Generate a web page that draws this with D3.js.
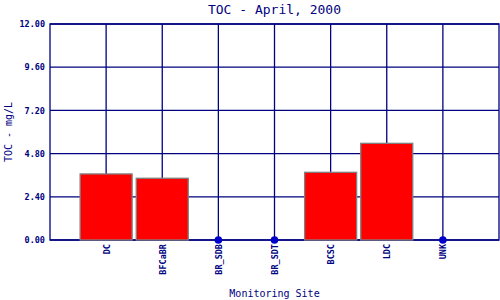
<!DOCTYPE html>
<html>
<head>
<meta charset="utf-8">
<script src="https://cdn.jsdelivr.net/npm/d3@7"></script>
<style>
  body { margin: 0; background: #fff; }
  text { font-family: "DejaVu Sans Mono", "Liberation Mono", monospace; fill: #000080; }
</style>
</head>
<body>
<div class="content"></div>
<script>
// site names along the x axis
const sites = ["DC", "BFCaBR", "BR_SDB", "BR_SDT", "BCSC", "LDC", "UNK"];
// TOC values in mg/L (null = no sample, drawn as a dot at zero)
const tocValues = [3.67, 3.43, null, null, 3.76, 5.37, null];
const yTicks = [0, 2.4, 4.8, 7.2, 9.6, 12];

const margin = { top: 24, right: 1, bottom: 60, left: 50 };
const width = 500, height = 300;

const svg = d3.select('.content')
    .append('svg')
    .attr('width', width)
    .attr('height', height);

const data = sites.map((s, i) => ({ site: s, value: tocValues[i] }));

// 8 equal steps across the plot, categories sit on steps 1..7
const xScale = d3.scalePoint()
    .domain(sites)
    .range([margin.left, width - margin.right])
    .padding(1);

const yScale = d3.scaleLinear()
    .domain([0, 12])
    .range([height - margin.bottom, margin.top]);

const navy = "#000080";

// grid
svg.append("g")
    .selectAll("line")
    .data(yTicks)
    .enter().append("line")
    .attr("x1", margin.left)
    .attr("x2", width - margin.right)
    .attr("y1", d => yScale(d))
    .attr("y2", d => yScale(d))
    .attr("stroke", navy)
    .attr("stroke-width", 1.3);

svg.append("g")
    .selectAll("line")
    .data(sites)
    .enter().append("line")
    .attr("x1", d => xScale(d))
    .attr("x2", d => xScale(d))
    .attr("y1", margin.top)
    .attr("y2", height - margin.bottom)
    .attr("stroke", navy)
    .attr("stroke-width", 1.3);

svg.append("rect")
    .attr("x", margin.left)
    .attr("y", margin.top)
    .attr("width", width - margin.right - margin.left)
    .attr("height", height - margin.bottom - margin.top)
    .attr("fill", "none")
    .attr("stroke", navy)
    .attr("stroke-width", 1.3);

// y axis labels
const yAxis = d3.axisLeft(yScale)
    .tickValues(yTicks)
    .tickFormat(d3.format(".2f"))
    .tickSize(0)
    .tickPadding(5);

svg.append("g")
    .attr("transform", `translate(${margin.left},0)`)
    .call(yAxis)
    .call(g => g.select('.domain').remove())
    .call(g => g.selectAll('text')
        .attr("font-family", "DejaVu Sans Mono")
        .attr("font-size", 8.5)
        .attr("font-weight", "bold")
        .attr("fill", navy));

// x axis labels, rotated
const xAxis = d3.axisBottom(xScale).tickSize(0).tickPadding(0);
svg.append("g")
    .attr("transform", `translate(0, ${height - margin.bottom})`)
    .call(xAxis)
    .call(g => g.select('.domain').remove())
    .call(g => g.selectAll('text')
        .attr("font-family", "DejaVu Sans Mono")
        .attr("font-size", 8.5)
        .attr("font-weight", "bold")
        .attr("fill", navy)
        .attr("transform", "rotate(-90)")
        .attr("text-anchor", "end")
        .attr("x", -4)
        .attr("y", 0)
        .attr("dy", "0.35em"));

// bars
const barW = 52;
svg.selectAll(".bar")
    .data(data.filter(d => d.value !== null))
    .enter().append("rect")
    .attr("class", "bar")
    .attr("x", d => xScale(d.site) - barW / 2)
    .attr("y", d => yScale(d.value))
    .attr("width", barW)
    .attr("height", d => yScale(0) - yScale(d.value))
    .attr("fill", "#ff0000")
    .attr("stroke", "#808080")
    .attr("stroke-width", 1.3);

// missing samples
svg.selectAll(".dot")
    .data(data.filter(d => d.value === null))
    .enter().append("circle")
    .attr("class", "dot")
    .attr("cx", d => xScale(d.site))
    .attr("cy", yScale(0))
    .attr("r", 3.8)
    .attr("fill", "#0000cc");

// titles
const cx = (margin.left + width - margin.right) / 2;
svg.append("text")
    .attr("x", cx)
    .attr("y", 14)
    .attr("text-anchor", "middle")
    .attr("font-size", 13)
    .text("TOC - April, 2000");

svg.append("text")
    .attr("x", cx)
    .attr("y", 297)
    .attr("text-anchor", "middle")
    .attr("font-size", 10)
    .text("Monitoring Site");

svg.append("text")
    .attr("transform", `translate(12, ${(margin.top + height - margin.bottom) / 2}) rotate(-90)`)
    .attr("text-anchor", "middle")
    .attr("font-size", 10)
    .text("TOC - mg/L");
</script>
</body>
</html>
